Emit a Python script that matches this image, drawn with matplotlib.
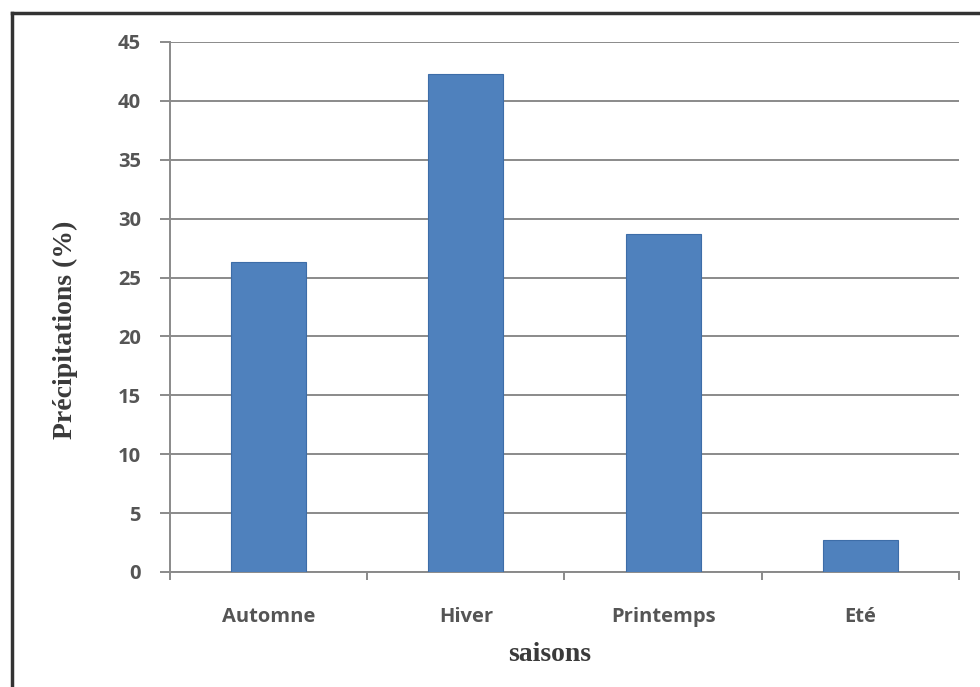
import matplotlib
matplotlib.use("Agg")
import matplotlib.pyplot as plt
from matplotlib.lines import Line2D
import numpy as np

saisons = ["Automne", "Hiver", "Printemps", "Eté"]
precip = [26.3, 42.3, 28.7, 2.7]
yticks = [0, 5, 10, 15, 20, 25, 30, 35, 40, 45]

fig = plt.figure(figsize=(9.8, 6.87), dpi=100)
ax = fig.add_axes([0.1735, 0.1674, 0.805, 0.7715])

x = np.arange(len(saisons))
ax.bar(x, precip, width=0.38, color="#4F81BD", edgecolor="#3D6DA8", linewidth=0.8, zorder=3)

grid_c = "#8a8a8a"
ax.set_xlim(-0.5, 3.5)
ax.set_ylim(0, 45)
ax.set_yticks(yticks)
ax.yaxis.grid(True, color=grid_c, linewidth=1.4, zorder=0)
ax.set_axisbelow(True)

# x ticks at the boundaries, labels centred under bars
ax.set_xticks(np.arange(-0.5, 4, 1))
ax.set_xticklabels([])
ax.set_xticks(x, minor=True)
ax.set_xticklabels(saisons, minor=True)
ax.tick_params(axis="x", which="minor", length=0, pad=25)
ax.tick_params(axis="x", which="major", length=6, width=1.4, color=grid_c)
ax.tick_params(axis="y", length=7, width=1.4, color=grid_c, pad=14)

for lab in ax.get_xticklabels(minor=True) + ax.get_yticklabels():
    lab.set_fontfamily("Open Sans")
    lab.set_fontweight("bold")
    lab.set_fontsize(14.5)
    lab.set_color("#555555")

for s in ["top", "right"]:
    ax.spines[s].set_visible(False)
for s in ["left", "bottom"]:
    ax.spines[s].set_color(grid_c)
    ax.spines[s].set_linewidth(1.4)

fig.text(0.067, 0.52, "Précipitations (%)", rotation=90, ha="center", va="center",
         family="Liberation Serif", fontweight="bold", fontsize=20, color="#3a3a3a")
fig.text(0.561, 0.048, "saisons", ha="center", va="center",
         family="Liberation Serif", fontweight="bold", fontsize=20, color="#3a3a3a")

# outer frame (left and top edges visible)
fig.add_artist(Line2D([0.0122, 0.0122], [0.0, 0.981], color="#333333", linewidth=2.5))
fig.add_artist(Line2D([0.0122, 1.0], [0.981, 0.981], color="#333333", linewidth=2.5))

fig.savefig("out.png", dpi=100)
